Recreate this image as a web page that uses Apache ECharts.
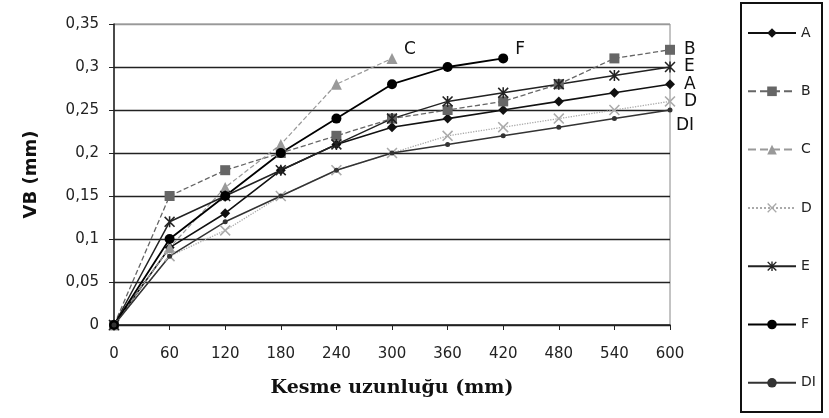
<!DOCTYPE html>
<html>
<head>
<meta charset="utf-8">
<script src="https://cdn.jsdelivr.net/npm/echarts@6/dist/echarts.min.js"></script>
<style>
html, body { margin: 0; padding: 0; background: #fff; }
#chart { width: 829px; height: 418px; }
</style>
</head>
<body>
<div id="chart"></div>
<script>
// kesme uzunlugu (mm)
var lengths = [0, 60, 120, 180, 240, 300, 360, 420, 480, 540, 600];
var yTicks = [0, 0.05, 0.1, 0.15, 0.2, 0.25, 0.3, 0.35];

// VB (mm) degerleri
var seriesA = [0, 0.09, 0.13, 0.18, 0.21, 0.23, 0.24, 0.25, 0.26, 0.27, 0.28];
var seriesB = [0, 0.15, 0.18, 0.20, 0.22, 0.24, 0.25, 0.26, 0.28, 0.31, 0.32];
var seriesC = [0, 0.09, 0.16, 0.21, 0.28, 0.31];
var seriesD = [0, 0.08, 0.11, 0.15, 0.18, 0.20, 0.22, 0.23, 0.24, 0.25, 0.26];
var seriesE = [0, 0.12, 0.15, 0.18, 0.21, 0.24, 0.26, 0.27, 0.28, 0.29, 0.30];
var seriesF = [0, 0.10, 0.15, 0.20, 0.24, 0.28, 0.30, 0.31];
var seriesDI = [0, 0.08, 0.12, 0.15, 0.18, 0.20, 0.21, 0.22, 0.23, 0.24, 0.25];

var X_SYM = 'path://M0,1 L1,0 L5,4 L9,0 L10,1 L6,5 L10,9 L9,10 L5,6 L1,10 L0,9 L4,5 Z';
var STAR_SYM = 'path://M0,1 L1,0 L5,4 L9,0 L10,1 L6,5 L10,9 L9,10 L5,6 L1,10 L0,9 L4,5 Z M4.3,0 L5.7,0 L5.7,10 L4.3,10 Z';

function pairs(vals) {
    var out = [];
    for (var i = 0; i < vals.length; i++) {
        out.push([lengths[i], vals[i]]);
    }
    return out;
}

function makeSeries(name, vals, color, lineType, width, symbol, size, label, offset) {
    return {
        name: name,
        type: 'line',
        data: pairs(vals),
        symbol: symbol,
        symbolSize: size,
        showSymbol: true,
        lineStyle: { color: color, width: width, type: lineType },
        itemStyle: { color: color },
        endLabel: {
            show: true,
            formatter: label,
            color: '#111',
            fontSize: 17,
            fontFamily: 'DejaVu Sans',
            distance: 14,
            offset: offset || [0, 0]
        },
        emphasis: { disabled: true }
    };
}

var chart = echarts.init(document.getElementById('chart'));

var option = {
    animation: false,
    backgroundColor: '#fff',
    grid: {
        left: 114, right: 159, top: 24, bottom: 93,
        show: true, borderColor: '#888', borderWidth: 1
    },
    xAxis: {
        type: 'value',
        min: 0, max: 600, interval: 60,
        name: 'Kesme uzunluğu (mm)',
        nameLocation: 'middle',
        nameGap: 54,
        nameTextStyle: { fontFamily: 'DejaVu Serif', fontWeight: 'bold', fontSize: 19, color: '#111' },
        axisLine: { lineStyle: { color: '#222', width: 1.5 } },
        axisTick: { show: true, length: 5, lineStyle: { color: '#222' } },
        axisLabel: { fontFamily: 'DejaVu Sans', fontSize: 15, color: '#222', margin: 22 },
        splitLine: { show: false }
    },
    yAxis: {
        type: 'value',
        min: 0, max: 0.35, interval: 0.05,
        name: 'VB (mm)',
        nameLocation: 'middle',
        nameGap: 74,
        nameTextStyle: { fontFamily: 'DejaVu Sans', fontWeight: 'bold', fontSize: 18, color: '#111' },
        axisLine: { show: true, lineStyle: { color: '#222', width: 1.5 } },
        axisTick: { show: true, length: 5, lineStyle: { color: '#222' } },
        axisLabel: {
            fontFamily: 'DejaVu Sans', fontSize: 15, color: '#222', margin: 15,
            formatter: function (v) {
                return String(Math.round(v * 100) / 100).replace('.', ',');
            }
        },
        splitLine: {
            show: true,
            lineStyle: { color: ['#222', '#222', '#222', '#222', '#222', '#222', '#222', '#999'], width: 1.3 }
        }
    },
    legend: {
        orient: 'vertical',
        left: 742,
        top: 21,
        itemWidth: 48,
        itemHeight: 12,
        itemGap: 44.3,
        textStyle: { fontFamily: 'DejaVu Sans', fontSize: 14, color: '#222' },
        data: ['A', 'B', 'C', 'D', 'E', 'F', 'DI']
    },
    graphic: [{
        type: 'rect',
        shape: { x: 741, y: 3, width: 81, height: 409 },
        style: { fill: 'none', stroke: '#111', lineWidth: 2 },
        silent: true
    }],
    series: [
        makeSeries('A', seriesA, '#111', 'solid', 1.6, 'diamond', 10, 'A'),
        makeSeries('B', seriesB, '#666', 'dashed', 1.3, 'rect', 10, 'B'),
        makeSeries('C', seriesC, '#999', 'dashed', 1.2, 'triangle', 11, 'C', [-2, -9]),
        makeSeries('D', seriesD, '#aaa', 'dotted', 1.3, X_SYM, 11, 'D'),
        makeSeries('E', seriesE, '#222', 'solid', 1.5, STAR_SYM, 11, 'E'),
        makeSeries('F', seriesF, '#000', 'solid', 1.8, 'circle', 10, 'F', [-2, -9]),
        makeSeries('DI', seriesDI, '#333', 'solid', 1.5, 'circle', 5, 'DI', [-8, 16])
    ]
};

chart.setOption(option);
</script>
</body>
</html>
